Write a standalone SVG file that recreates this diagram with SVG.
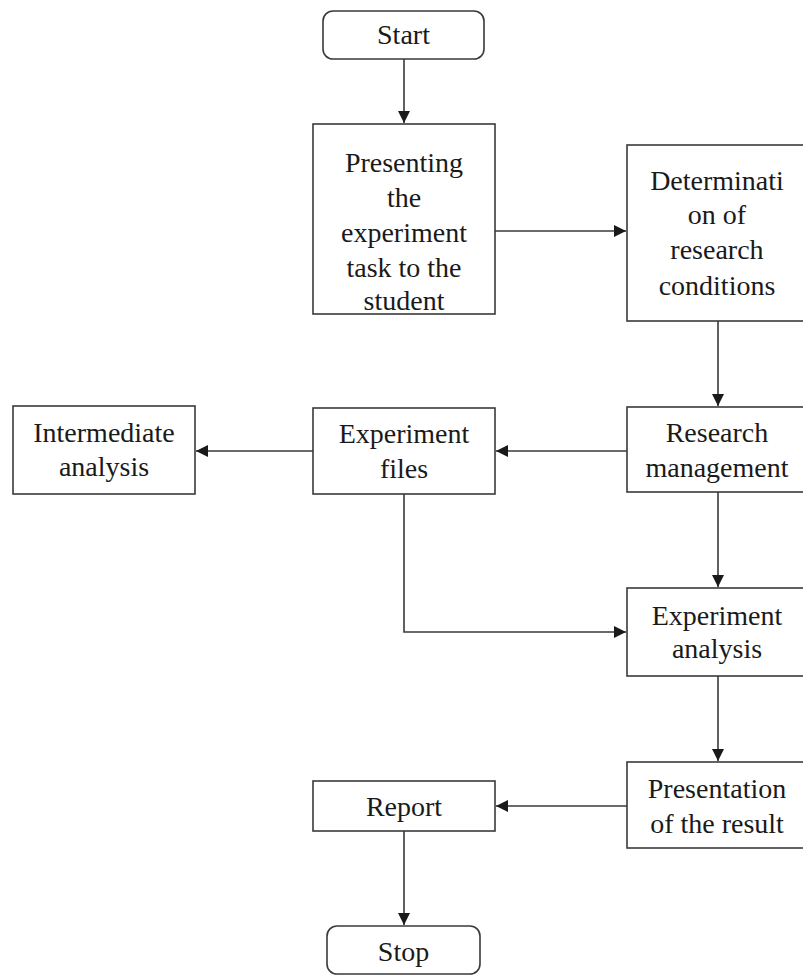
<svg xmlns="http://www.w3.org/2000/svg" width="803" height="976" viewBox="0 0 803 976">
<defs>
<marker id="ah" markerUnits="userSpaceOnUse" markerWidth="14" markerHeight="12" refX="12" refY="6" orient="auto">
<path d="M0,0 L12,6 L0,12 Z" fill="#1a1a1a"/>
</marker>
<style>
.box{fill:#fff;stroke:#3a3a3a;stroke-width:1.6}
.t{font-size:28px;fill:#1a1a1a;text-anchor:middle}
.c{fill:none;stroke:#3a3a3a;stroke-width:1.6;marker-end:url(#ah)}
</style>
</defs>
<rect width="803" height="976" fill="#fff"/>
<g id="connectors">
<path class="c" d="M404,59 V123"/>
<path class="c" d="M495,231 H626"/>
<path class="c" d="M718,321 V406"/>
<path class="c" d="M627,451 H496"/>
<path class="c" d="M313,451 H196"/>
<path class="c" d="M404,494 V632 H626"/>
<path class="c" d="M718,492 V587"/>
<path class="c" d="M718,676 V761"/>
<path class="c" d="M627,806 H496"/>
<path class="c" d="M404,831 V925"/>
</g>
<g font-family="Liberation Serif, Tinos, Times New Roman, DejaVu Serif, serif">
<g id="start">
<rect class="box" x="323" y="11" width="161" height="48" rx="10"/>
<text class="t" x="403.5" y="44">Start</text>
</g>
<g id="presenting">
<rect class="box" x="313" y="124" width="182" height="190"/>
<text class="t" x="404" y="172">Presenting</text>
<text class="t" x="404" y="207">the</text>
<text class="t" x="404" y="242">experiment</text>
<text class="t" x="404" y="277">task to the</text>
<text class="t" x="404" y="310">student</text>
</g>
<g id="determination">
<rect class="box" x="627" y="145" width="180" height="176"/>
<text class="t" x="717" y="190">Determinati</text>
<text class="t" x="717" y="224">on of</text>
<text class="t" x="717" y="259">research</text>
<text class="t" x="717" y="295">conditions</text>
</g>
<g id="intermediate">
<rect class="box" x="13" y="406" width="182" height="88"/>
<text class="t" x="104" y="442">Intermediate</text>
<text class="t" x="104" y="476">analysis</text>
</g>
<g id="files">
<rect class="box" x="313" y="408" width="182" height="86"/>
<text class="t" x="404" y="443">Experiment</text>
<text class="t" x="404" y="478">files</text>
</g>
<g id="management">
<rect class="box" x="627" y="407" width="180" height="85"/>
<text class="t" x="717" y="442">Research</text>
<text class="t" x="717" y="477">management</text>
</g>
<g id="analysis">
<rect class="box" x="627" y="588" width="180" height="88"/>
<text class="t" x="717" y="625">Experiment</text>
<text class="t" x="717" y="658">analysis</text>
</g>
<g id="presentation">
<rect class="box" x="627" y="762" width="180" height="86"/>
<text class="t" x="717" y="798">Presentation</text>
<text class="t" x="717" y="833">of the result</text>
</g>
<g id="report">
<rect class="box" x="313" y="781" width="182" height="50"/>
<text class="t" x="404" y="816">Report</text>
</g>
<g id="stop">
<rect class="box" x="327" y="926" width="153" height="48" rx="10"/>
<text class="t" x="403.5" y="961">Stop</text>
</g>
</g>
</svg>
